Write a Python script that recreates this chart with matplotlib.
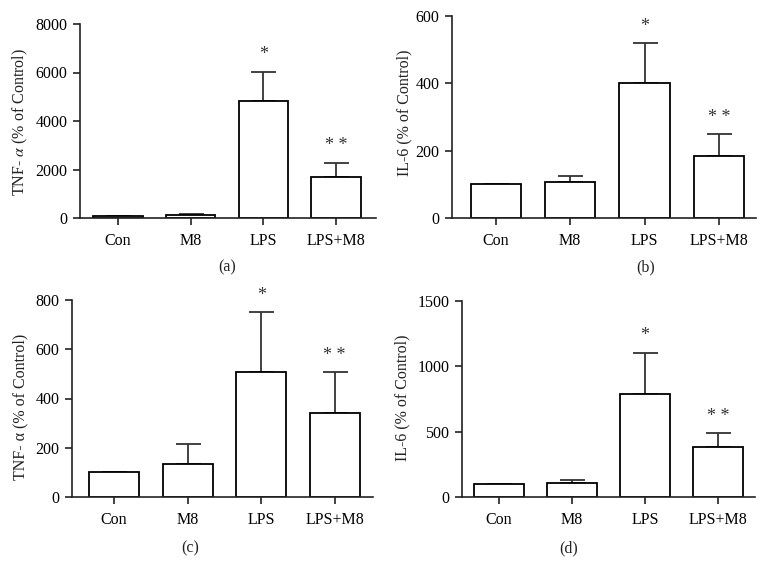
import matplotlib
matplotlib.use("Agg")
import matplotlib.pyplot as plt
import numpy as np

plt.rcParams["font.family"] = ["Liberation Serif", "DejaVu Serif"]
plt.rcParams["mathtext.fontset"] = "stix"

# ─── DATA ───────────────────────────────────────────────────────────────
groups = ["Con", "M8", "LPS", "LPS+M8"]

tnf_a_mean = [100, 130, 4830, 1710]
tnf_a_err = [0, 40, 1200, 575]

il6_b_mean = [100, 106, 400, 184]
il6_b_err = [0, 19, 120, 65]

tnf_c_mean = [100, 132, 506, 340]
tnf_c_err = [0, 83, 244, 168]

il6_d_mean = [100, 110, 790, 380]
il6_d_err = [0, 20, 315, 107]

stars = ["", "", "*", "* *"]

W, H = 768, 581
fig = plt.figure(figsize=(W / 100, H / 100), dpi=100, facecolor="white")


def px_axes(left, right, top, bottom):
    return fig.add_axes([left / W, 1 - bottom / H, (right - left) / W, (bottom - top) / H])


def draw_panel(ax, means, errs, ymax, yticks, xlim):
    x = np.arange(len(groups))
    ax.bar(x, means, width=0.68, color="white", edgecolor="black", linewidth=1.3, zorder=2)
    ax.errorbar(x, means, yerr=[np.zeros(len(errs)), errs], fmt="none",
                ecolor="#333333", elinewidth=1.3, capsize=9, capthick=1.3, zorder=1)
    for xi, m, e, s in zip(x, means, errs, stars):
        if s:
            ax.annotate(s, (xi, m + e), xytext=(0, 6), textcoords="offset points",
                        ha="center", va="bottom", fontsize=13, color="#333333")
    ax.set_xlim(*xlim)
    ax.set_ylim(0, ymax)
    ax.set_yticks(yticks)
    ax.set_xticks(x)
    ax.set_xticklabels(groups)
    for side in ["top", "right"]:
        ax.spines[side].set_visible(False)
    for side in ["left", "bottom"]:
        ax.spines[side].set_linewidth(1.2)
        ax.spines[side].set_color("#222222")
    ax.tick_params(direction="out", length=5, width=1.2, color="#222222",
                   labelsize=11.5, pad=4)
    ax.tick_params(axis="x", pad=6)
    ax.patch.set_alpha(0)


ax_a = px_axes(80, 376, 24, 218)
draw_panel(ax_a, tnf_a_mean, tnf_a_err, 8000, [0, 2000, 4000, 6000, 8000], (-0.52, 3.55))

ax_b = px_axes(452, 756, 16, 218)
draw_panel(ax_b, il6_b_mean, il6_b_err, 600, [0, 200, 400, 600], (-0.59, 3.5))

ax_c = px_axes(72, 373, 300, 497)
draw_panel(ax_c, tnf_c_mean, tnf_c_err, 800, [0, 200, 400, 600, 800], (-0.57, 3.52))

ax_d = px_axes(462, 755, 301, 497)
draw_panel(ax_d, il6_d_mean, il6_d_err, 1500, [0, 500, 1000, 1500], (-0.51, 3.51))

# y labels and panel letters placed at their picture positions
ylabels = [
    (20, 122, r"TNF- $\alpha$ (% of Control)"),
    (404, 113, "IL-6 (% of Control)"),
    (20, 407, "TNF- α (% of Control)"),
    (402, 398, "IL-6 (% of Control)"),
]
for px, py, txt in ylabels:
    fig.text(px / W, 1 - py / H, txt, rotation=90, ha="center", va="center",
             fontsize=11.5, color="#222222")

letters = [(227, 267, "(a)"), (646, 267, "(b)"), (190, 548, "(c)"), (569, 548, "(d)")]
for px, py, txt in letters:
    fig.text(px / W, 1 - py / H, txt, ha="center", va="center", fontsize=11.5, color="#222222")

fig.savefig("out.png", dpi=100, facecolor="white")
